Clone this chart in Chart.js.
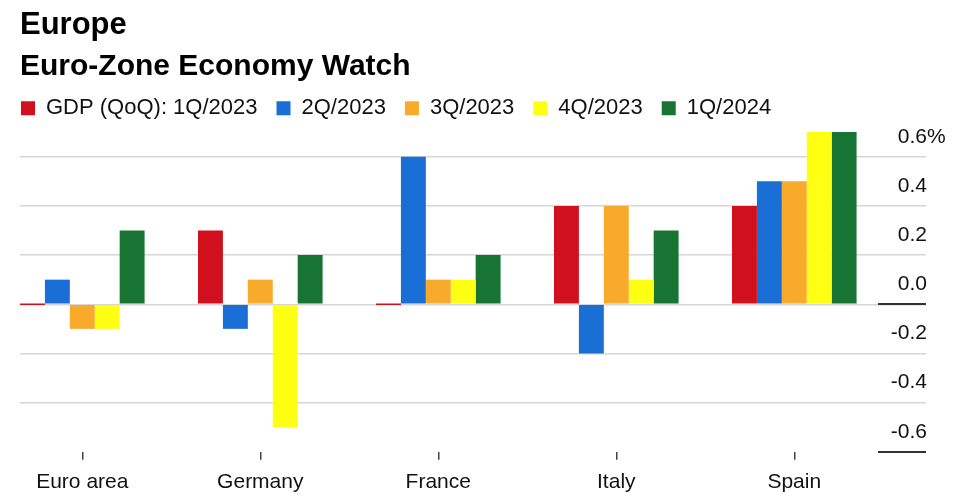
<!DOCTYPE html>
<html>
<head>
<meta charset="utf-8">
<script src="https://cdn.jsdelivr.net/npm/chart.js@4.4.1/dist/chart.umd.min.js"></script>
<style>
  html, body { margin: 0; padding: 0; background: #fff; }
  #wrap { width: 957px; height: 500px; }
</style>
</head>
<body>
<div id="wrap"><canvas id="euro"></canvas></div>
<script>
// countries on the x axis
var countries = ["Euro area", "Germany", "France", "Italy", "Spain"];
// GDP QoQ growth, %
var q1_2023 = [0.0, 0.3, 0.0, 0.4, 0.4];
var q2_2023 = [0.1, -0.1, 0.6, -0.2, 0.5];
var q3_2023 = [-0.1, 0.1, 0.1, 0.4, 0.5];
var q4_2023 = [-0.1, -0.5, 0.1, 0.1, 0.7];
var q1_2024 = [0.3, 0.2, 0.2, 0.3, 0.7];
var yTicks = [-0.6, -0.4, -0.2, 0.0, 0.2, 0.4, 0.6];

var FONT = "'Liberation Sans', Arial, sans-serif";

function pts(arr) {
    return arr.map(function (v, i) { return { x: i, y: v }; });
}

// dark stubs under the 0.0 and -0.6 labels, plus the % sign
var axisMarks = {
    id: 'axisMarks',
    afterLayout: function (chart) {
        // pull the legend row flush with the titles
        chart.legend.left -= 18;
        chart.legend.right -= 18;
        chart.legend.top += 2;
        chart.legend.bottom += 2;
    },
    afterDraw: function (chart) {
        var c = chart.ctx, y = chart.scales.y, area = chart.chartArea;
        c.save();
        c.strokeStyle = '#333';
        c.lineWidth = 2;
        [0, -0.6].forEach(function (v) {
            var py = Math.round(y.getPixelForValue(v));
            c.beginPath();
            c.moveTo(area.right - 48, py);
            c.lineTo(area.right, py);
            c.stroke();
        });
        c.fillStyle = '#111';
        c.font = '21px ' + FONT;
        c.textAlign = 'left';
        c.textBaseline = 'middle';
        c.fillText('%', area.right + 1, y.getPixelForValue(0.6) - 20);
        c.restore();
    }
};

var ctx = document.getElementById("euro").getContext('2d');
var chart = new Chart(ctx, {
    type: 'bar',
    data: {
        datasets: [
            { label: 'GDP (QoQ): 1Q/2023', data: pts(q1_2023), backgroundColor: '#d0101c', minBarLength: 1.5 },
            { label: '2Q/2023', data: pts(q2_2023), backgroundColor: '#1a6fd6' },
            { label: '3Q/2023', data: pts(q3_2023), backgroundColor: '#f8aa2a' },
            { label: '4Q/2023', data: pts(q4_2023), backgroundColor: '#ffff14' },
            { label: '1Q/2024', data: pts(q1_2024), backgroundColor: '#177433' }
        ]
    },
    options: {
        responsive: true,
        maintainAspectRatio: false,
        animation: false,
        layout: { padding: { left: 20, right: 29, top: 7, bottom: -5 } },
        datasets: {
            bar: { categoryPercentage: 0.7, barPercentage: 1.0, borderWidth: 0, clip: false }
        },
        scales: {
            x: {
                type: 'linear',
                offset: false,
                min: -0.35,
                max: 4.74,
                afterBuildTicks: function (s) {
                    s.ticks = countries.map(function (c, i) { return { value: i }; });
                },
                grid: { offset: false, drawOnChartArea: false, drawTicks: true, tickLength: 8, color: '#444', lineWidth: 1.5 },
                border: { display: false },
                ticks: {
                    autoSkip: false,
                    maxRotation: 0,
                    padding: 10,
                    color: '#111',
                    font: { family: FONT, size: 21 },
                    callback: function (v) { return countries[v]; }
                }
            },
            y: {
                position: 'right',
                min: -0.6,
                max: 0.72,
                afterBuildTicks: function (s) {
                    s.ticks = yTicks.map(function (v) { return { value: v }; });
                },
                grid: {
                    drawTicks: false,
                    lineWidth: 1.5,
                    color: function (c) { return c.tick && c.tick.value === -0.6 ? 'rgba(0,0,0,0)' : '#d6d6d6'; }
                },
                border: { display: false },
                ticks: {
                    mirror: true,
                    padding: 1,
                    labelOffset: -20,
                    color: '#111',
                    font: { family: FONT, size: 21 },
                    callback: function (v) { return v.toFixed(1); }
                }
            }
        },
        plugins: {
            title: {
                display: true,
                text: 'Europe',
                align: 'start',
                color: '#000',
                font: { family: FONT, size: 31, weight: 'bold' },
                padding: { top: 0, bottom: 5 }
            },
            subtitle: {
                display: true,
                text: 'Euro-Zone Economy Watch',
                align: 'start',
                color: '#000',
                font: { family: FONT, size: 30, weight: 'bold' },
                padding: { top: 0, bottom: -9 }
            },
            legend: {
                align: 'start',
                labels: {
                    boxWidth: 14,
                    boxHeight: 14,
                    padding: 19,
                    color: '#111',
                    font: { family: FONT, size: 22 }
                }
            },
            tooltip: { enabled: false }
        }
    },
    plugins: [axisMarks]
});
</script>
</body>
</html>
